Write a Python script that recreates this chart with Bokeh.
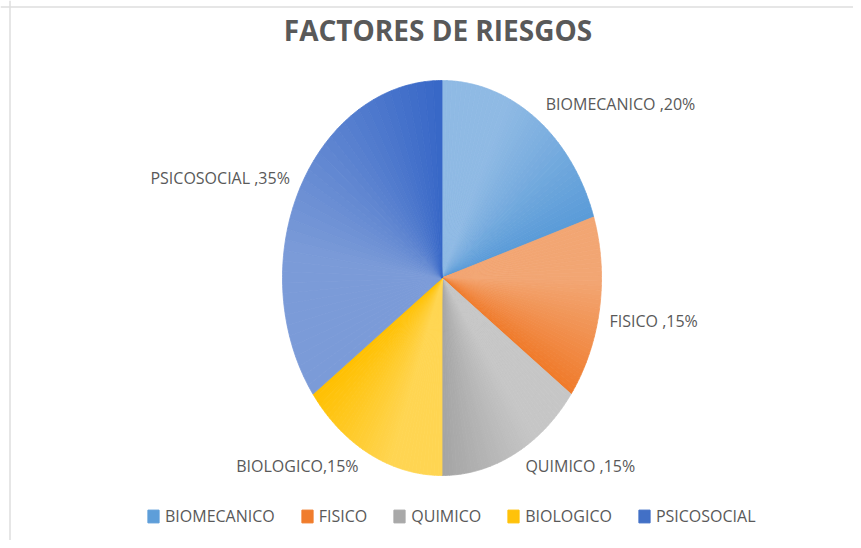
import math
from bokeh.plotting import figure
from bokeh.models import Range1d, ColumnDataSource, Legend, LegendItem, Label, Span
from bokeh.core.properties import value
from bokeh.embed import file_html
from bokeh.resources import INLINE

# ---- data ----
categories = ["BIOMECANICO", "FISICO", "QUIMICO", "BIOLOGICO", "PSICOSOCIAL"]
percent = [20, 15, 15, 15, 35]
label_texts = ["BIOMECANICO ,20%", "FISICO ,15%", "QUIMICO ,15%", "BIOLOGICO,15%", "PSICOSOCIAL ,35%"]
title_text = "FACTORES DE RIESGOS"

# ---- styles ----
light_colors = ["#8fbae4", "#f2a673", "#c6c6c6", "#ffd552", "#7b9bd8"]
dark_colors = ["#5a9bd8", "#f07a2a", "#a4a4a4", "#ffc000", "#3767c7"]
legend_colors = ["#5e9ed9", "#f07c2c", "#a9a9a9", "#ffc20a", "#4270c6"]
TEXT_COLOR = "#595959"
FONT = "Open Sans"

# ---- layout (screen pixel coordinates) ----
CX, CY, RX, RY = 441.5, 277.5, 159.5, 197.5
label_offsets = [(10, -14), (10, 12), (11, 12), (-11, 12), (-10, -10)]
W, H = 853, 540

p = figure(width=W, height=H, x_range=Range1d(0, W), y_range=Range1d(H, 0),
           output_backend="svg", toolbar_location=None, min_border=0,
           background_fill_color="white", border_fill_color="white")
p.axis.visible = False
p.grid.visible = False
p.outline_line_color = None


def hex2rgb(h):
    h = h.lstrip("#")
    return tuple(int(h[i:i + 2], 16) for i in (0, 2, 4))


def mix(c1, c2, w):
    a, b = hex2rgb(c1), hex2rgb(c2)
    return "#%02x%02x%02x" % tuple(int(round(a[i] + (b[i] - a[i]) * w)) for i in range(3))


def pt(theta):
    return CX + RX * math.sin(theta), CY - RY * math.cos(theta)


total = sum(percent)
xs, ys, fills = [], [], []
mids = []
start = 0.0
N = 40
for i, v in enumerate(percent):
    a0 = start / total * 2 * math.pi
    a1 = (start + v) / total * 2 * math.pi
    mids.append((a0 + a1) / 2)
    for k in range(N):
        t0 = a0 + (a1 - a0) * k / N
        t1 = a0 + (a1 - a0) * (k + 1) / N
        px, py = [CX], [CY]
        for j in range(5):
            x, y = pt(t0 + (t1 - t0) * j / 4)
            px.append(x)
            py.append(y)
        xs.append(px)
        ys.append(py)
        tt = (k + 0.5) / N
        w = max(0.0, (tt - 0.35) / 0.65)
        fills.append(mix(light_colors[i], dark_colors[i], w))
    start += v

p.patches(xs="xs", ys="ys", fill_color="fill", line_color="fill", line_width=0.8,
          source=ColumnDataSource(dict(xs=xs, ys=ys, fill=fills)))

# slice labels
lx, ly, la = [], [], []
for i, m in enumerate(mids):
    x, y = pt(m)
    dx, dy = label_offsets[i]
    lx.append(x + dx)
    ly.append(y + dy)
    la.append("left" if math.sin(m) > 0 else "right")
p.text(x="x", y="y", text="t", text_align="a", text_baseline="middle",
       text_font=value(FONT), text_font_size="16px", text_color=TEXT_COLOR,
       source=ColumnDataSource(dict(x=lx, y=ly, t=label_texts, a=la)))

# title
p.add_layout(Label(x=437.5, y=29, text=title_text, text_align="center", text_baseline="middle",
                   text_font=FONT, text_font_size="28px", text_font_style="bold",
                   text_color=TEXT_COLOR))

# legend (swatch renderers hold a single point outside the visible range)
items = []
for c, col in zip(categories, legend_colors):
    r = p.rect(x=[-1000], y=[-1000], width=1, height=1, fill_color=col, line_color=col)
    items.append(LegendItem(label=c, renderers=[r]))
legend = Legend(items=items, orientation="horizontal", location=(146, 13),
                glyph_width=14, glyph_height=16, label_height=15, label_standoff=5,
                spacing=25, padding=0, margin=0, border_line_color=None,
                background_fill_alpha=0, label_text_font=FONT,
                label_text_font_size="16px", label_text_color=TEXT_COLOR)
p.add_layout(legend, "center")

# faint chart-area frame (top and left edges)
p.add_layout(Span(location=6.5, dimension="width", line_color="#dedede", line_width=1.5))
p.add_layout(Span(location=9.5, dimension="height", line_color="#dedede", line_width=1.5))

open("out.html", "w").write(file_html(p, INLINE))
